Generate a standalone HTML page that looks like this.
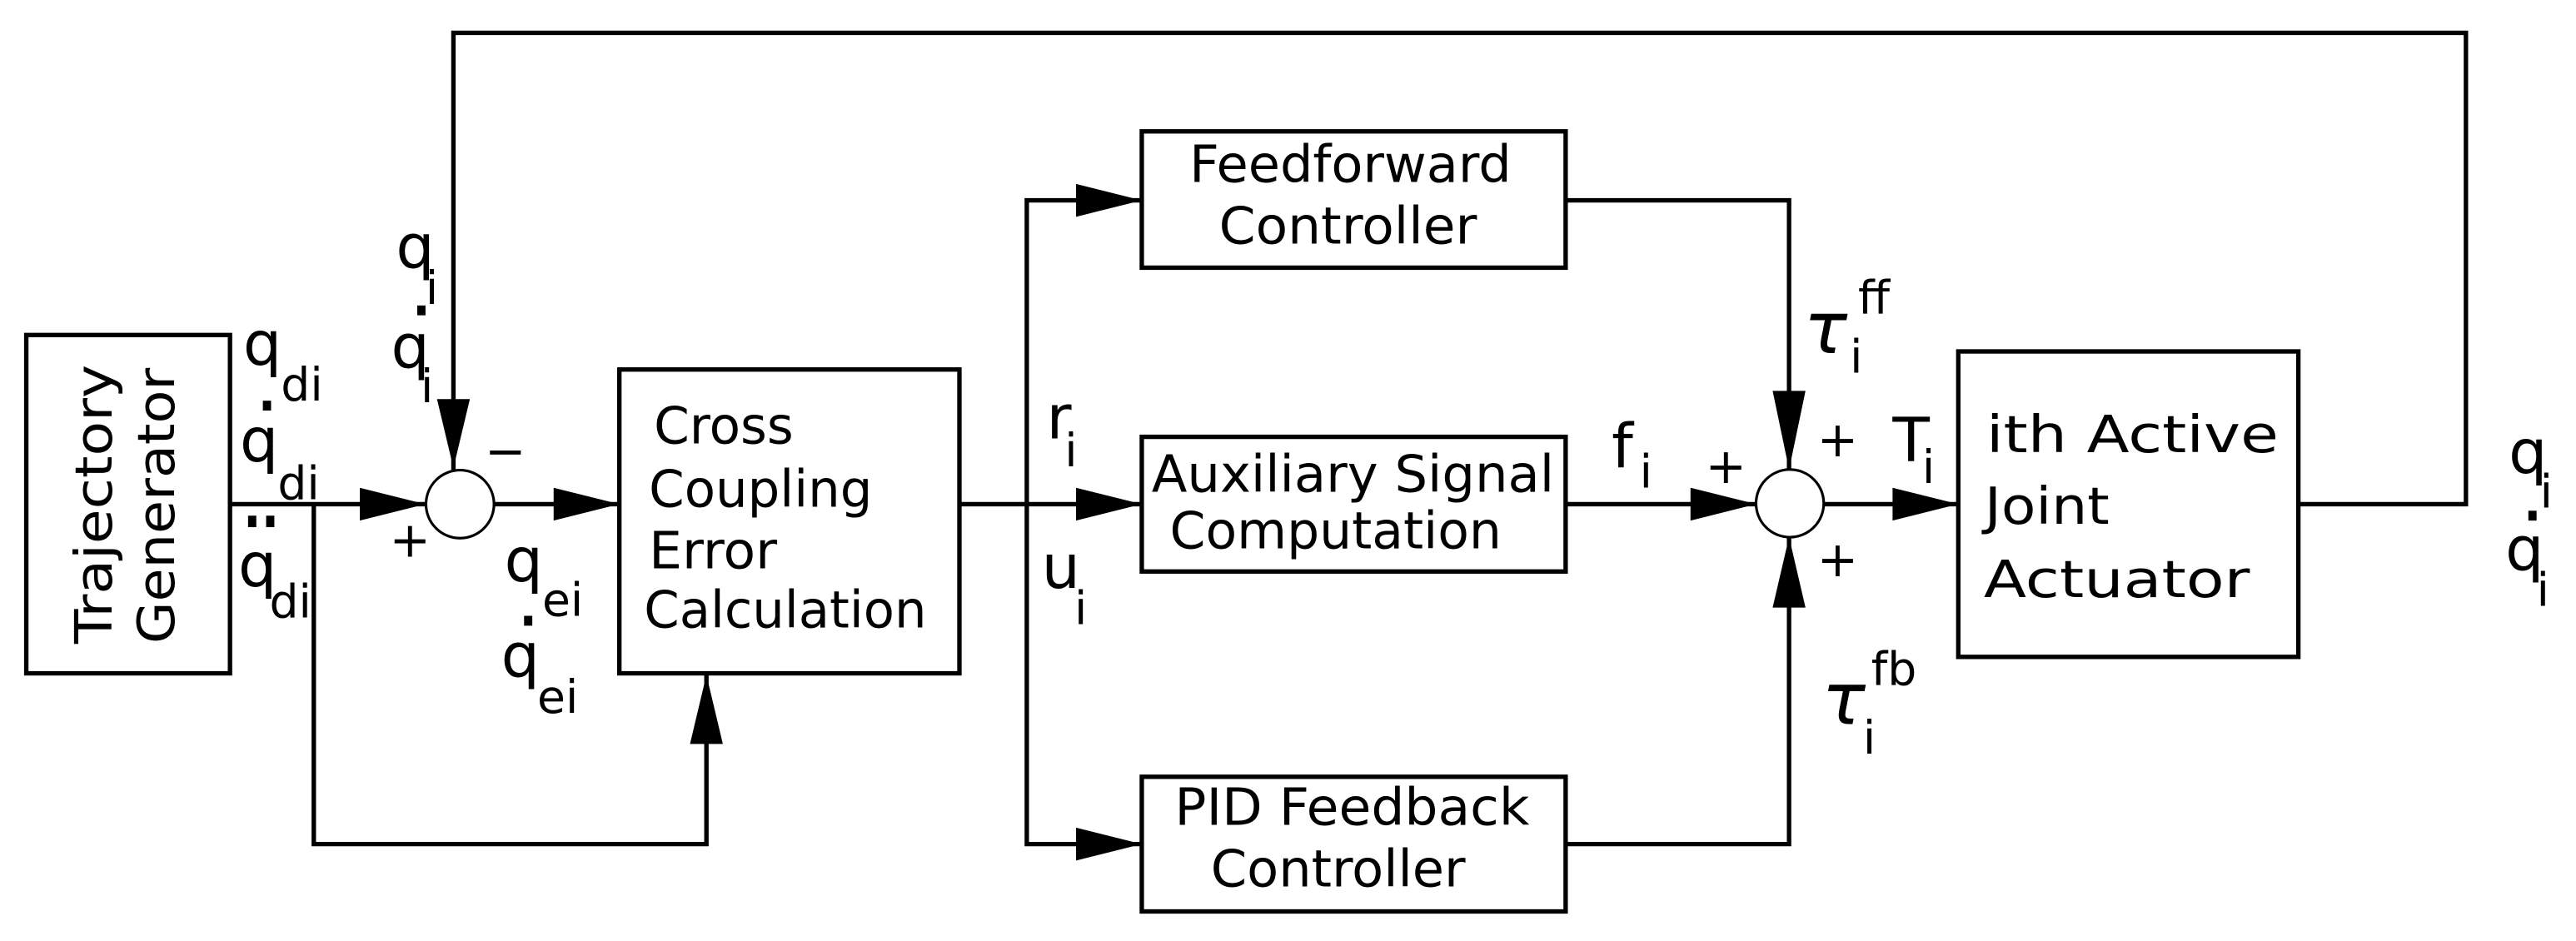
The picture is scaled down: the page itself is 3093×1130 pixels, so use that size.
<!DOCTYPE html>
<html><head><meta charset="utf-8"><style>
html,body{margin:0;padding:0;background:#fff;}
svg{display:block;}
text{font-family:"DejaVu Sans","Liberation Sans",sans-serif;fill:#000;}
</style></head><body>
<svg width="3093" height="1130" viewBox="0 0 1568 573" preserveAspectRatio="none" xmlns="http://www.w3.org/2000/svg">
<g fill="none" stroke="#000" stroke-width="2.7">
<rect x="16" y="204" width="124" height="206"/>
<rect x="377" y="225" width="207" height="185"/>
<rect x="695" y="80" width="258" height="83"/>
<rect x="695" y="266" width="258" height="82"/>
<rect x="695" y="473" width="258" height="82"/>
<rect x="1192" y="214" width="207" height="186"/>
<circle cx="280" cy="307" r="20.7" stroke-width="1.6"/>
<circle cx="1089.5" cy="306.5" r="20.6" stroke-width="1.6"/>
<polyline points="140,307 259,307"/>
<polyline points="191,307 191,514 430,514 430,411"/>
<polyline points="276,286 276,20 1501,20 1501,307 1399,307"/>
<polyline points="301,307 377,307"/>
<polyline points="584,307 695,307"/>
<polyline points="695,122 625,122 625,514 695,514"/>
<polyline points="953,122 1089,122 1089,286"/>
<polyline points="953,514 1089,514 1089,327"/>
<polyline points="953,307 1069,307"/>
<polyline points="1110,307 1192,307"/>
</g>
<g fill="#000">
<polygon points="259,307 219,297 219,317"/>
<polygon points="276,285 266,243 286,243"/>
<polygon points="377,307 337,297 337,317"/>
<polygon points="430,411 420,453 440,453"/>
<polygon points="695,122 655,112 655,132"/>
<polygon points="695,307 655,297 655,317"/>
<polygon points="695,514 655,504 655,524"/>
<polygon points="1069,307 1029,297 1029,317"/>
<polygon points="1089,286 1079,238 1099,238"/>
<polygon points="1089,327 1079,370 1099,370"/>
<polygon points="1192,307 1152,297 1152,317"/>
</g>
<text transform="translate(68,392) rotate(-90)" font-size="31" textLength="170" lengthAdjust="spacingAndGlyphs">Trajectory</text>
<text transform="translate(106,392) rotate(-90)" font-size="31" textLength="168" lengthAdjust="spacingAndGlyphs">Generator</text>
<g font-size="37">
<text x="148" y="222">q</text><text x="171" y="244" font-size="28">di</text>
<text x="146" y="281">q</text><text x="169" y="304" font-size="28">di</text><rect x="160" y="244" width="5" height="6"/>
<text x="145" y="357">q</text><text x="164" y="376" font-size="28">di</text><rect x="151" y="314" width="5" height="7"/><rect x="162" y="314" width="5" height="7"/>
<text x="241" y="163">q</text><text x="259" y="185" font-size="28">i</text>
<text x="238" y="224">q</text><text x="256" y="245" font-size="28">i</text><rect x="254" y="186" width="5" height="6"/>
<text x="295" y="285" font-size="30">−</text>
<text x="237" y="339" font-size="30">+</text>
<text x="307" y="354">q</text><text x="330" y="375" font-size="28">ei</text>
<text x="305" y="412">q</text><text x="327" y="434" font-size="28">ei</text><rect x="319" y="375" width="5" height="6"/>
<text x="637" y="267">r</text><text x="648" y="284" font-size="28">i</text>
<text x="634" y="358">u</text><text x="654" y="380" font-size="28">i</text>
</g>
<g font-size="31">
<text x="398" y="270" textLength="85" lengthAdjust="spacingAndGlyphs">Cross</text>
<text x="395" y="308.5" textLength="136" lengthAdjust="spacingAndGlyphs">Coupling</text>
<text x="395" y="346" textLength="78" lengthAdjust="spacingAndGlyphs">Error</text>
<text x="392" y="382" textLength="172" lengthAdjust="spacingAndGlyphs">Calculation</text>
<text x="724" y="110.7" textLength="196" lengthAdjust="spacingAndGlyphs">Feedforward</text>
<text x="742" y="148.3" textLength="157" lengthAdjust="spacingAndGlyphs">Controller</text>
<text x="701" y="299.5" textLength="245" lengthAdjust="spacingAndGlyphs">Auxiliary Signal</text>
<text x="712" y="333.8" textLength="202" lengthAdjust="spacingAndGlyphs">Computation</text>
<text x="715" y="502.2" textLength="216" lengthAdjust="spacingAndGlyphs">PID Feedback</text>
<text x="737" y="539.8" textLength="155" lengthAdjust="spacingAndGlyphs">Controller</text>
<text x="1209" y="275.3" textLength="178" lengthAdjust="spacingAndGlyphs">ith Active</text>
<text x="1208" y="319" textLength="76" lengthAdjust="spacingAndGlyphs">Joint</text>
<text x="1207.5" y="363.6" textLength="162" lengthAdjust="spacingAndGlyphs">Actuator</text>
</g>
<g font-size="37">
<text x="1098" y="215" font-size="44" font-family="Liberation Serif, serif" font-style="italic">τ</text><text x="1126" y="227" font-size="28">i</text><text x="1131" y="191" font-size="28">ff</text>
<text x="1109" y="441" font-size="44" font-family="Liberation Serif, serif" font-style="italic">τ</text><text x="1134" y="459" font-size="28">i</text><text x="1139" y="417" font-size="28">fb</text>
<text x="981" y="284.4">f</text><text x="998" y="297" font-size="28">i</text>
<text x="1038" y="294" font-size="30">+</text>
<text x="1106" y="278" font-size="30">+</text>
<text x="1106" y="351" font-size="30">+</text>
<text x="1152" y="281">T</text><text x="1170" y="294" font-size="28">i</text>
<text x="1527" y="288">q</text><text x="1546" y="309" font-size="28">i</text>
<text x="1525" y="347">q</text><text x="1544" y="369" font-size="28">i</text><rect x="1539" y="311" width="5" height="6"/>
</g>
</svg>
</body></html>
